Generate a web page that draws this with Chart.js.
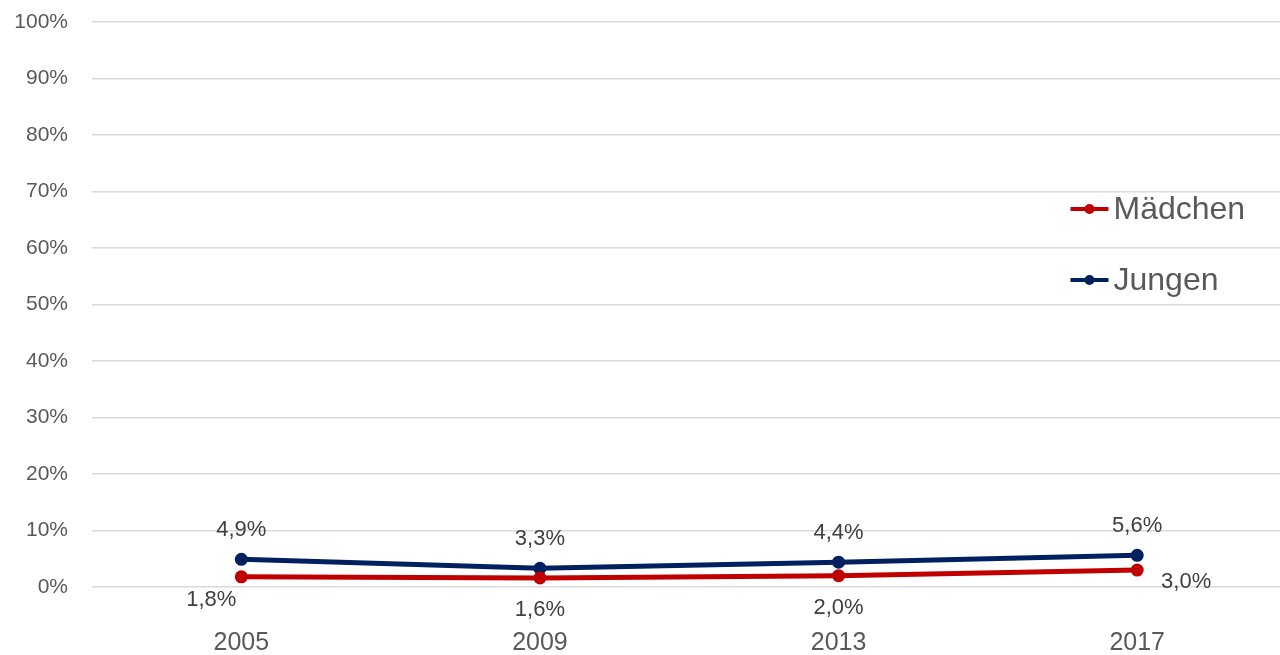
<!DOCTYPE html>
<html>
<head>
<meta charset="utf-8">
<script src="https://cdn.jsdelivr.net/npm/chart.js@4/dist/chart.umd.min.js"></script>
<style>
  html, body { margin: 0; padding: 0; background: #fff; overflow: hidden; }
  canvas { display: block; width: 1293px; height: 655px; }
</style>
</head>
<body>
<canvas id="chart" width="1293" height="655"></canvas>
<script>
const years = ['2005', '2009', '2013', '2017'];
const maedchen = [1.8, 1.6, 2.0, 3.0];
const jungen = [4.9, 3.3, 4.4, 5.6];
const yTicks = [0, 10, 20, 30, 40, 50, 60, 70, 80, 90, 100];

// where each value label sits relative to its point
const maedchenLabelPos = ['belowLeft', 'below', 'below', 'right'];
const jungenLabelPos = ['above', 'above', 'above', 'above'];

const FONT = '"Liberation Sans", Arial, sans-serif';
const RED = '#c00000';
const NAVY = '#002060';

const fmt = v => v.toFixed(1).replace('.', ',') + '%';

const valueLabels = {
  id: 'valueLabels',
  afterDatasetsDraw(chart) {
    const ctx = chart.ctx;
    ctx.save();
    ctx.font = '22px ' + FONT;
    ctx.fillStyle = '#404040';
    ctx.textBaseline = 'middle';
    ctx.textAlign = 'center';
    chart.data.datasets.forEach((ds, i) => {
      const meta = chart.getDatasetMeta(i);
      meta.data.forEach((pt, j) => {
        const pos = ds.labelPos[j];
        let x = pt.x, y = pt.y;
        if (pos === 'above') y -= 29;
        else if (pos === 'below') y += 32;
        else if (pos === 'belowLeft') { x -= 30; y += 23; }
        else if (pos === 'right') { x += 49; y += 12; }
        ctx.fillText(fmt(ds.data[j]), x, y);
      });
    });
    ctx.restore();
  }
};

// legend inside the plot, on the right
const sideLegend = {
  id: 'sideLegend',
  afterDraw(chart) {
    const ctx = chart.ctx;
    const area = chart.chartArea;
    const x0 = area.right - 216;
    const rows = [area.top + 187, area.top + 258];
    ctx.save();
    ctx.font = '32px ' + FONT;
    ctx.textBaseline = 'middle';
    ctx.textAlign = 'left';
    chart.data.datasets.forEach((ds, i) => {
      const y = rows[i];
      ctx.strokeStyle = ds.borderColor;
      ctx.lineWidth = 4;
      ctx.beginPath();
      ctx.moveTo(x0, y);
      ctx.lineTo(x0 + 38, y);
      ctx.stroke();
      ctx.fillStyle = ds.borderColor;
      ctx.beginPath();
      ctx.arc(x0 + 19, y, 5, 0, Math.PI * 2);
      ctx.fill();
      ctx.fillStyle = '#595959';
      ctx.fillText(ds.label, x0 + 43, y + 1);
    });
    ctx.restore();
  }
};

new Chart(document.getElementById('chart'), {
  type: 'line',
  data: {
    labels: years,
    datasets: [
      {
        label: 'Mädchen',
        data: maedchen,
        labelPos: maedchenLabelPos,
        borderColor: RED,
        backgroundColor: RED,
        borderWidth: 5,
        pointRadius: 6.5,
        pointBorderWidth: 0,
        pointHoverRadius: 6.5,
        tension: 0
      },
      {
        label: 'Jungen',
        data: jungen,
        labelPos: jungenLabelPos,
        borderColor: NAVY,
        backgroundColor: NAVY,
        borderWidth: 5,
        pointRadius: 6.5,
        pointBorderWidth: 0,
        pointHoverRadius: 6.5,
        tension: 0
      }
    ]
  },
  options: {
    responsive: false,
    animation: false,
    layout: { padding: { top: 22, left: 0, right: 0, bottom: 0 } },
    plugins: {
      legend: { display: false },
      tooltip: { enabled: false }
    },
    scales: {
      x: {
        offset: true,
        grid: { display: false, drawTicks: false },
        border: { display: false },
        ticks: {
          color: '#595959',
          font: { family: FONT, size: 25 },
          padding: 41
        },
        afterFit: s => { s.height = 68; }
      },
      y: {
        min: 0,
        max: 100,
        afterBuildTicks: s => { s.ticks = yTicks.map(v => ({ value: v })); },
        grid: { color: '#d9d9d9', lineWidth: 1.5, drawTicks: false },
        border: { display: false },
        ticks: {
          color: '#595959',
          font: { family: FONT, size: 21 },
          padding: 24,
          callback: v => v + '%'
        },
        afterFit: s => { s.width = 92; s.paddingTop = 0; s.paddingBottom = 0; }
      }
    }
  },
  plugins: [valueLabels, sideLegend]
});
</script>
</body>
</html>
